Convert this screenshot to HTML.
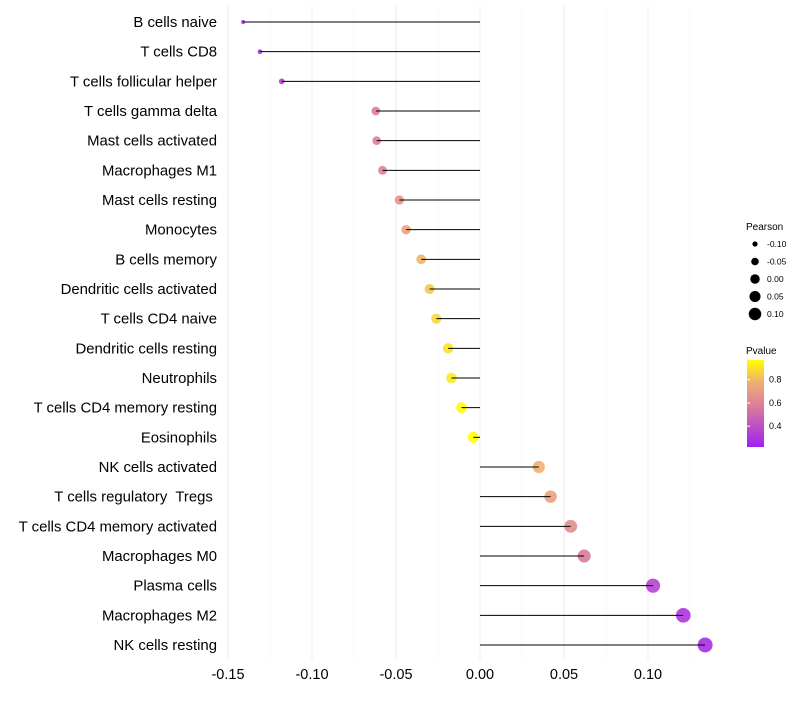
<!DOCTYPE html>
<html><head><meta charset="utf-8"><style>
body{margin:0;background:#fff;font-family:"Liberation Sans",sans-serif}
text{white-space:pre}
</style></head><body>
<svg id="c" width="800" height="700" xmlns="http://www.w3.org/2000/svg">
<defs><linearGradient id="pg" x1="0" y1="1" x2="0" y2="0">
<stop offset="0" stop-color="#A020F0"/><stop offset="0.5" stop-color="#DE8296"/><stop offset="0.75" stop-color="#F0B070"/><stop offset="1" stop-color="#FFFF00"/>
</linearGradient></defs>
<g id="grid"></g><g id="marks"></g><g id="labels"></g>
<g font-size="10">
<text x="746" y="230" fill="#000">Pearson</text>
<g id="sizeleg"></g>
<text x="746" y="354" fill="#000">Pvalue</text>
<rect x="747" y="360" width="17" height="87" fill="url(#pg)"/>
<g id="colleg" font-size="9"></g>
</g>
</svg>
<script>
const cats=["B cells naive","T cells CD8","T cells follicular helper","T cells gamma delta","Mast cells activated","Macrophages M1","Mast cells resting","Monocytes","B cells memory","Dendritic cells activated","T cells CD4 naive","Dendritic cells resting","Neutrophils","T cells CD4 memory resting","Eosinophils","NK cells activated","T cells regulatory  Tregs ","T cells CD4 memory activated","Macrophages M0","Plasma cells","Macrophages M2","NK cells resting"];
const pearson=[-0.141,-0.131,-0.118,-0.062,-0.0615,-0.058,-0.048,-0.044,-0.035,-0.030,-0.026,-0.019,-0.017,-0.011,-0.004,0.035,0.042,0.054,0.062,0.103,0.121,0.134];
const pvals=[0.28,0.30,0.33,0.58,0.58,0.60,0.66,0.72,0.80,0.84,0.87,0.90,0.92,0.96,0.99,0.78,0.72,0.64,0.57,0.35,0.30,0.27];
const xticks=[-0.15,-0.10,-0.05,0.00,0.05,0.10];
const sizeLegVals=[-0.10,-0.05,0.00,0.05,0.10];
const colLegVals=[0.4,0.6,0.8];
const NS="http://www.w3.org/2000/svg";
const X=v=>480+v*1680, Y=i=>22+i*29.667, R=v=>Math.sqrt(Math.max(4,30.7+190.7*v));
const pY=p=>360+(0.97-p)/0.75*87;
function mk(t,a,p){const e=document.createElementNS(NS,t);for(const k in a)e.setAttribute(k,a[k]);p.appendChild(e);return e;}
function col(p){const t=Math.max(0,Math.min(1,(p-0.22)/0.75));
 const st=[[0,[160,32,240]],[0.5,[222,130,150]],[0.75,[240,176,112]],[1,[255,255,0]]];
 for(let i=0;i<st.length-1;i++){if(t<=st[i+1][0]){const f=(t-st[i][0])/(st[i+1][0]-st[i][0]);const c=st[i][1].map((v,j)=>Math.round(v+(st[i+1][1][j]-v)*f));return `rgb(${c})`;}}
 return "rgb(255,255,0)";}
const g=document.getElementById('grid'),m=document.getElementById('marks'),L=document.getElementById('labels');
for(let v=-0.175;v<=0.126;v+=0.025){const x=X(v);if(x<222)continue;const major=Math.abs(Math.round(v*100)%5)===0;
 const ln=mk('line',{x1:x,x2:x,y1:6,y2:660,stroke:major?'#ebebeb':'#f5f5f5','stroke-width':major?1:0.7},g);
 
 }
xticks.forEach(v=>{const t=mk('text',{x:X(v),y:679,'text-anchor':'middle','font-size':14.5,fill:'#000'},L);t.textContent=v.toFixed(2);
 
 });
cats.forEach((c,i)=>{const y=Y(i);
 const t=mk('text',{x:217,y:y+5,'text-anchor':'end','font-size':14.9,fill:'#000'},L);t.textContent=c;
 
 
 const d=mk('circle',{cx:X(pearson[i]),cy:y,r:R(pearson[i]),fill:col(pvals[i]),opacity:0.9},m);
 
 
 const s=mk('line',{x1:X(0),x2:X(pearson[i]),y1:y,y2:y,stroke:'#000','stroke-width':1},m);
 
 });
const sl=document.getElementById('sizeleg');
sizeLegVals.forEach((v,i)=>{const y=244+i*17.5;
 const c=mk('circle',{cx:755,cy:y,r:R(v)-0.8,fill:'#000'},sl);
 
 
 const t=mk('text',{x:767,y:y+3,'font-size':8.5,fill:'#000'},sl);t.textContent=v.toFixed(2);
 
 });
const cl=document.getElementById('colleg');
colLegVals.forEach(v=>{const y=pY(v);
 const tk=mk('line',{x1:747,x2:750,y1:y,y2:y,stroke:'#fff'},cl);
 
 
 const t=mk('text',{x:769,y:y+3,fill:'#000'},cl);t.textContent=v.toFixed(1);
 
 });
</script>
</body></html>
